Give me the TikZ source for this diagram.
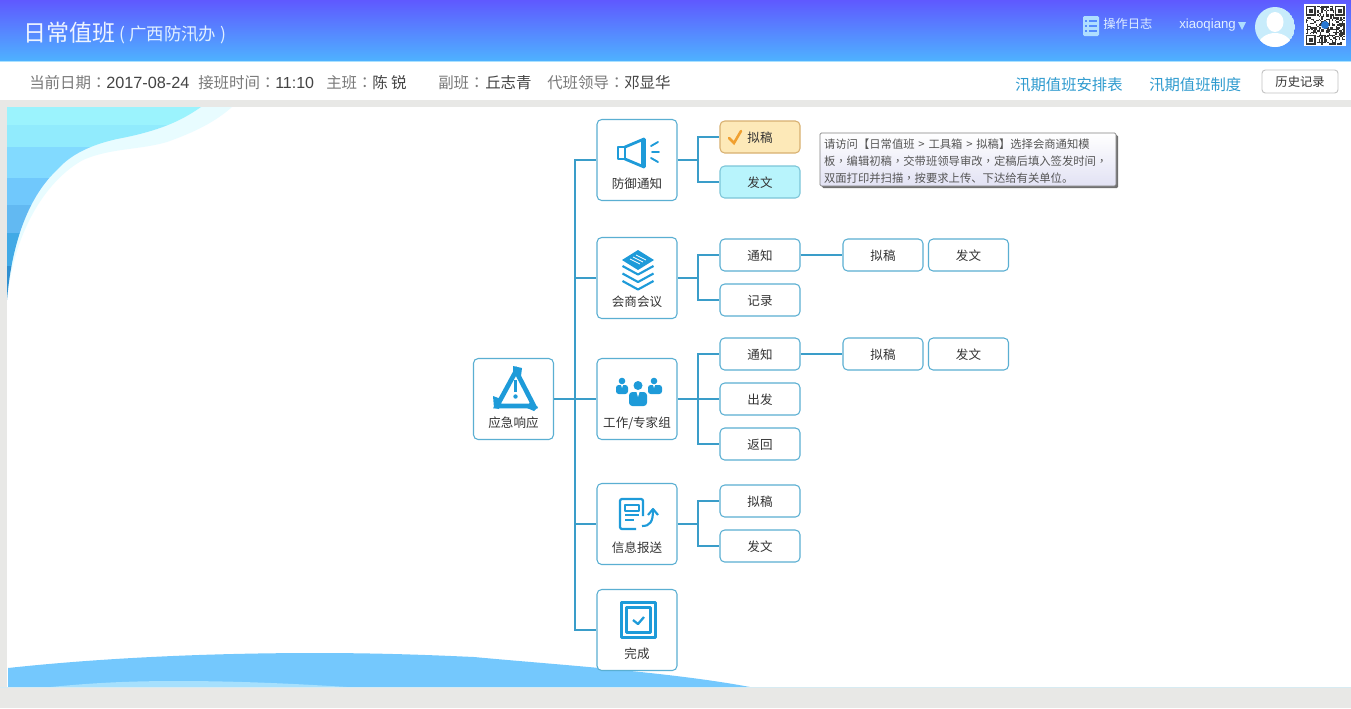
\documentclass[tikz,border=0pt]{standalone}
\usepackage{fontspec}
\setmainfont{Noto Sans CJK SC}
\newfontfamily\lat{Liberation Sans}
\newfontfamily\tcf{Noto Sans CJK TC}
\usetikzlibrary{shadows}
\definecolor{pagegray}{HTML}{E8E8E6}
\definecolor{linkc}{HTML}{3A9DC9}
\definecolor{boxc}{HTML}{5AAFD2}
\definecolor{iconc}{HTML}{1E9BD9}
\definecolor{txt}{HTML}{333333}
\definecolor{lab}{HTML}{7A7A7A}
\definecolor{val}{HTML}{444444}
\definecolor{linkblue}{HTML}{2F9BCF}
\definecolor{gtop}{HTML}{5F59FF}
\definecolor{gbot}{HTML}{4EB2FF}
\definecolor{hedge}{HTML}{AAE1FF}
\definecolor{fringe}{HTML}{E8FCFF}
\definecolor{bandA}{HTML}{9BF3FD}
\definecolor{bandB}{HTML}{91EBFD}
\definecolor{bandC}{HTML}{82DAFF}
\definecolor{bandD}{HTML}{70C8FC}
\definecolor{bandE}{HTML}{62B9F2}
\definecolor{bandF}{HTML}{41AAE6}
\definecolor{bandG}{HTML}{2F8FD0}
\definecolor{wave}{HTML}{74C8FD}
\definecolor{waveb}{HTML}{A6E0FD}
\definecolor{basecol}{HTML}{D7EBF2}
\definecolor{ttl}{HTML}{EEF4FF}
\definecolor{ttlb}{HTML}{E1F0FF}
\definecolor{lic}{HTML}{AFDEFF}
\definecolor{licb}{HTML}{558CFF}
\definecolor{ava}{HTML}{C8ECFB}
\definecolor{qrdot}{HTML}{2878D2}
\definecolor{hbd}{HTML}{C3C3C3}
\definecolor{okbd}{HTML}{D8B070}
\definecolor{okfl}{HTML}{FDE9B8}
\definecolor{cybd}{HTML}{7CC5D8}
\definecolor{cyfl}{HTML}{B8F4FC}
\definecolor{tickc}{HTML}{F0A030}
\definecolor{tipbd}{HTML}{828282}
\definecolor{tipbt}{HTML}{E2E2F4}
\definecolor{tiptx}{HTML}{555555}
\newcommand{\boxlabel}[1]{\raisebox{-21.4pt}[0pt][0pt]{#1}}
\newcommand{\sublabel}[1]{\raisebox{-4.4pt}[0pt][0pt]{#1}}
\newcommand{\colonc}{{\tcf ：}}
\newcommand{\commac}{{\tcf ，}}
\tikzset{
  mainbox/.style={draw=boxc,line width=.8pt,rounded corners=3.5pt,fill=white,minimum width=60pt,minimum height=60.75pt,inner sep=0pt,text=txt,font=\fontsize{9.4}{11}\selectfont},
  subbox/.style={draw=boxc,line width=.8pt,rounded corners=3.5pt,fill=white,minimum width=60pt,minimum height=24pt,inner sep=0pt,text=txt,font=\fontsize{9.4}{11}\selectfont},
  link/.style={draw=linkc,line width=1.3pt},
  barlab/.style={anchor=west,inner sep=0pt,text=lab,font=\fontsize{11.6}{14}\selectfont},
  barval/.style={anchor=west,inner sep=0pt,text=val,font=\fontsize{11.6}{14}\selectfont},
  toplink/.style={anchor=west,inner sep=0pt,text=linkblue,font=\fontsize{11.5}{14}\selectfont},
  ico/.style={draw=iconc,line width=1.5pt,line join=round},
}
\begin{document}
\begin{tikzpicture}[x=.75pt,y=-.75pt]
\useasboundingbox (0,0) rectangle (1351,708);
% page ground
\fill[pagegray] (0,0) rectangle (1351,708);
\fill[white] (7,107) rectangle (1351,687);
\fill[white] (0,61) rectangle (1351,100);
\shade[top color=gtop,bottom color=gbot] (0,0) rectangle (1351,61);
\fill[hedge] (0,60.5) rectangle (1351,62);
% corner decoration
\fill[fringe] (7,107) -- (232,107) .. controls (215,122) and (195,132) .. (167,142) .. controls (140,150) and (110,148) .. (83,160) .. controls (50,178) and (15,225) .. (7,300) -- cycle;
\begin{scope}
\clip (7,107) -- (201,107) .. controls (185,118) and (165,130) .. (117,139) .. controls (90,145) and (70,155) .. (57,170) .. controls (30,195) and (12,240) .. (7,300) -- cycle;
\fill[bandA] (7,107) rectangle (210,125);
\fill[bandB] (7,125) rectangle (210,147);
\fill[bandC] (7,147) rectangle (210,178);
\fill[bandD] (7,178) rectangle (210,205);
\fill[bandE] (7,205) rectangle (210,233);
\fill[bandF] (7,233) rectangle (210,266);
\fill[bandG] (7,266) rectangle (210,300);
\end{scope}
% bottom wave
\fill[wave] (8,668) .. controls (110,657) and (220,653) .. (316,653) .. controls (380,653) and (430,655) .. (474,657) .. controls (560,665) and (670,672) .. (750,687) -- (8,687) -- cycle;
\fill[waveb] (51,687) .. controls (100,682) and (140,681) .. (178,681) .. controls (240,681) and (300,684) .. (347,687) -- cycle;
\fill[basecol] (0,686.5) rectangle (1351,687.5);
% header text
\node[anchor=west,inner sep=0pt,text=ttl,font=\fontsize{17.25}{20}\selectfont] (title) at (23,33) {日常值班};
\node[anchor=west,inner sep=0pt,text=ttlb,font=\fontsize{13.1}{16}\selectfont] (subtitle) at (119,35) {( 广西防汛办 )};
% log icon
\fill[lic,rounded corners=1pt] (1083,16) rectangle (1099,36);
\foreach \yy in {21,26,31}{
  \fill[licb] (1085,\yy-.8) rectangle (1087,\yy+.8);
  \fill[licb] (1089,\yy-.8) rectangle (1097,\yy+.8);
}
\node[anchor=west,inner sep=0pt,text=ttlb,font=\fontsize{9.2}{11}\selectfont] (log) at (1103,24) {操作日志};
\node[anchor=west,inner sep=0pt,text=ttlb,font=\lat\fontsize{9.9}{11}\selectfont] (user) at (1179,25) {xiaoqiang};
\fill[lic] (1238,22) -- (1246,22) -- (1242,30) -- cycle;
% avatar
\begin{scope}
\clip (1275,27) circle (20);
\fill[ava] (1275,27) circle (20);
\fill[white] (1275,22) ellipse (8.5 and 10);
\fill[white] (1257,48) .. controls (1258,38) and (1267,33) .. (1275,33) .. controls (1283,33) and (1292,38) .. (1293,48) -- cycle;
\end{scope}
% QR
\fill[white] (1304,4) rectangle (1346,46);
\pgfmathsetseed{11}
\foreach \i in {0,...,26}{\foreach \j in {0,...,26}{
  \pgfmathrandominteger{\qq}{0}{1}
  \ifnum\qq=1 \fill[black!80] (1305.5+\i*1.45,5.5+\j*1.45) rectangle ++(1.45,1.45);\fi
}}
\foreach \qx/\qy in {1305.5/5.5,1334.5/5.5,1305.5/34.5}{
  \fill[white] (\qx-.5,\qy-.5) rectangle ++(11.5,11.5);
  \fill[black!80] (\qx,\qy) rectangle ++(10,10);
  \fill[white] (\qx+1.5,\qy+1.5) rectangle ++(7,7);
  \fill[black!80] (\qx+3,\qy+3) rectangle ++(4,4);
}
\fill[qrdot] (1325,25) circle (4);
% info bar
\node[barlab] (d1) at (29,83) {当前日期\colonc};
\node[barval,font=\lat\fontsize{12.2}{14}\selectfont] (d2) at (106,83) {2017-08-24};
\node[barlab] (d3) at (198,83) {接班时间\colonc};
\node[barval,font=\lat\fontsize{12}{14}\selectfont] (d4) at (275,83) {11:10};
\node[barlab] (d5) at (326,83) {主班\colonc};
\node[barval] (d6) at (372,83) {陈 锐};
\node[barlab] (d7) at (438,83) {副班\colonc};
\node[barval] (d8) at (485,83) {丘志青};
\node[barlab] (d9) at (547,83) {代班领导\colonc};
\node[barval] (d10) at (624,83) {邓显华};
\node[toplink] (r1) at (1015,85) {汛期值班安排表};
\node[toplink] (r2) at (1149,85) {汛期值班制度};
\node[draw=hbd,rounded corners=2.5pt,line width=.7pt,fill=white,minimum width=57pt,minimum height=17.25pt,inner sep=0pt,text=txt,font=\fontsize{9.2}{11}\selectfont] (hist) at (1300,81.5) {历史记录};
% boxes
\node[mainbox] (root) at (513.5,399) {\boxlabel{应急响应}};
\node[mainbox] (fang) at (637,160) {\boxlabel{防御通知}};
\node[mainbox] (hui) at (637,278) {\boxlabel{会商会议}};
\node[mainbox] (gong) at (637,399) {\boxlabel{工作/专家组}};
\node[mainbox] (xin) at (637,524) {\boxlabel{信息报送}};
\node[mainbox] (wan) at (637,630) {\boxlabel{完成}};
\node[subbox,draw=okbd,fill=okfl] (f1) at (760,137) {\sublabel{拟稿}};
\node[subbox,draw=cybd,fill=cyfl] (f2) at (760,182) {\sublabel{发文}};
\node[subbox] (h1) at (760,255) {\sublabel{通知}};
\node[subbox] (h2) at (760,300) {\sublabel{记录}};
\node[subbox] (h3) at (883,255) {\sublabel{拟稿}};
\node[subbox] (h4) at (968.5,255) {\sublabel{发文}};
\node[subbox] (g1) at (760,354) {\sublabel{通知}};
\node[subbox] (g2) at (760,399) {\sublabel{出发}};
\node[subbox] (g3) at (760,444) {\sublabel{返回}};
\node[subbox] (g4) at (883,354) {\sublabel{拟稿}};
\node[subbox] (g5) at (968.5,354) {\sublabel{发文}};
\node[subbox] (x1) at (760,501) {\sublabel{拟稿}};
\node[subbox] (x2) at (760,546) {\sublabel{发文}};
% connectors
\coordinate (trunk) at (575,399);
\coordinate (fj) at (698,160);
\coordinate (hj) at (698,278);
\coordinate (gj) at (698,399);
\coordinate (xj) at (698,524);
\draw[link] (root.east) -- (gong.west);
\draw[link] (trunk) |- (fang.west);
\draw[link] (trunk) |- (hui.west);
\draw[link] (trunk) |- (xin.west);
\draw[link] (trunk) |- (wan.west);
\draw[link] (fang.east) -- (fj);
\draw[link] (fj) |- (f1.west);
\draw[link] (fj) |- (f2.west);
\draw[link] (hui.east) -- (hj);
\draw[link] (hj) |- (h1.west);
\draw[link] (hj) |- (h2.west);
\draw[link] (h1.east) -- (h3.west);
\draw[link] (gong.east) -- (gj);
\draw[link] (gj) |- (g1.west);
\draw[link] (gj) -- (g2.west);
\draw[link] (gj) |- (g3.west);
\draw[link] (g1.east) -- (g4.west);
\draw[link] (xin.east) -- (xj);
\draw[link] (xj) |- (x1.west);
\draw[link] (xj) |- (x2.west);
% tick in draft box
\draw[tickc,line width=1.9pt,line cap=round] (729,138) -- (734,143) -- (741,131);
% tooltip
\node[draw=tipbd,line width=.6pt,rounded corners=1pt,top color=white,bottom color=tipbt,drop shadow={shadow xshift=1.6pt,shadow yshift=-1.6pt,fill=black!65,opacity=.85},minimum width=222pt,minimum height=39.75pt,text width=216pt,inner sep=0pt,align=left,text=tiptx,font=\fontsize{8.5}{12.75}\selectfont] (tip) at (968,159.5) {\rule{0pt}{9.6pt}请访问【日常值班 > 工具箱 > 拟稿】选择会商通知模\\板\commac 编辑初稿\commac 交带班领导审改\commac 定稿后填入签发时间\commac\\双面打印并扫描\commac 按要求上传、下达给有关单位。};
% megaphone
\draw[ico,line width=2.1pt] (618,147) rectangle (625,159);
\draw[ico,line width=2.1pt] (625,147) -- (644,139) -- (644,167) -- (625,159);
\fill[iconc] (641,139) rectangle (646,167);
\draw[ico,line cap=round,line width=1.4pt] (651,146) -- (658,142);
\draw[ico,line cap=round,line width=1.4pt] (652,152) -- (659,152);
\draw[ico,line cap=round,line width=1.4pt] (651,158) -- (658,162);
% stack
\fill[iconc] (622,260) -- (638,250) -- (654,260) -- (638,270) -- cycle;
\draw[white,line width=.6pt] (633,257) -- (643,262);
\draw[white,line width=.6pt] (636,255) -- (646,260);
\draw[white,line width=.6pt] (630,259) -- (640,264);
\foreach \dd in {0,7.5,15}{
  \draw[ico,line width=1.6pt] (622.5,266+\dd) -- (638,274.5+\dd) -- (653.5,266+\dd);
}
% warning
\draw[ico,line width=3.5pt,line join=miter] (516,371) -- (534,406) -- (497,406) -- cycle;
\fill[iconc] (513,366) -- (522,368) -- (521,376) -- (513,375) -- cycle;
\fill[iconc] (493,396) -- (501,399) -- (499,409) -- (494,408) -- cycle;
\fill[iconc] (530,402) -- (538,407) -- (534,411) -- (527,408) -- cycle;
\draw[ico,line width=2pt] (515.5,380) -- (515.5,392);
\fill[iconc] (515.5,396.5) circle (2.2);
% people
\fill[iconc] (638,385.5) circle (4.5);
\fill[iconc,rounded corners=2.5pt] (629,392) rectangle (647,406);
\fill[iconc] (622,381) circle (3.3);
\fill[iconc,rounded corners=2pt] (616,385) rectangle (628,394);
\fill[iconc] (654,381) circle (3.3);
\fill[iconc,rounded corners=2pt] (648,385) rectangle (662,394);
\fill[white] (636.5,392) -- (639.5,392) -- (638,397) -- cycle;
\fill[white] (621,385) -- (623,385) -- (622,388) -- cycle;
\fill[white] (653,385) -- (655,385) -- (654,388) -- cycle;
% report
\draw[ico,line width=1.7pt,rounded corners=1.5pt] (636,529) -- (620,529) -- (620,499) -- (643,499) -- (643,516);
\draw[ico,line width=1.3pt] (625,505) rectangle (639,511);
\draw[ico,line width=1.3pt] (625,515) -- (639,515);
\draw[ico,line width=1.3pt] (625,520) -- (634,520);
\draw[ico,line width=1.6pt] (642,526) .. controls (650,526) and (653,522) .. (653,510);
\draw[ico,line width=1.6pt] (648,515) -- (653,509) -- (658,515);
% done
\draw[ico,line width=1.6pt] (621.5,602.5) rectangle (655.5,637.5);
\draw[ico,line width=1.6pt] (626.5,607.5) rectangle (650.5,632.5);
\draw[ico,line width=1.7pt] (633,620) -- (638,624) -- (644,617);
\end{tikzpicture}
\end{document}
